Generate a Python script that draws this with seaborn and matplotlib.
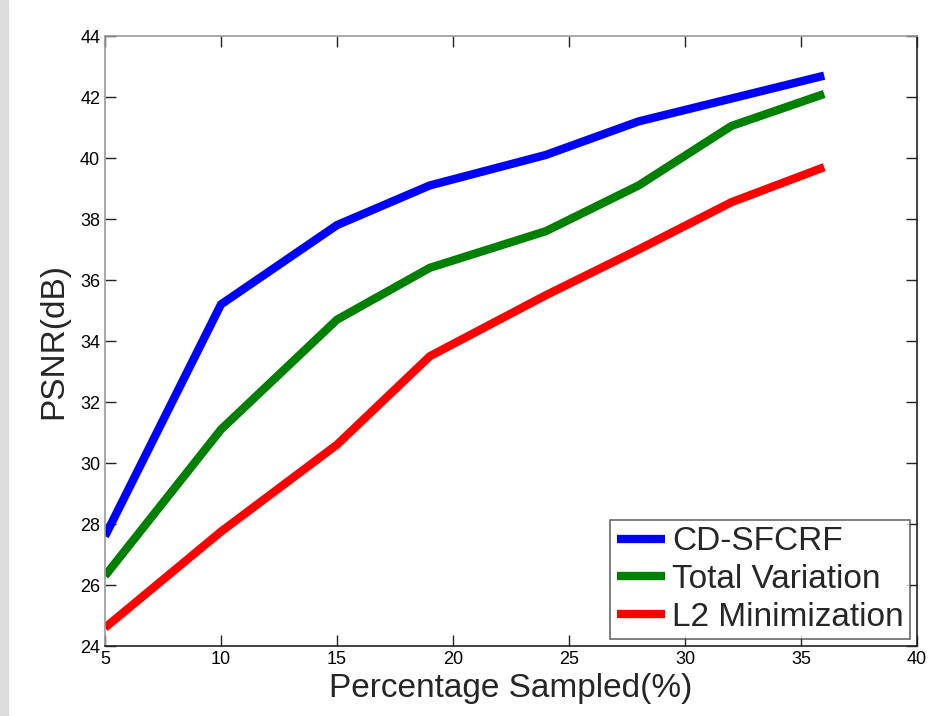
import numpy as np
import pandas as pd
import matplotlib
matplotlib.use("Agg")
import matplotlib.pyplot as plt
import seaborn as sns
from matplotlib.patches import Rectangle

# data
sampled = [5, 10, 15, 19, 24, 28, 32, 36]
cd_sfcrf = [27.6, 35.2, 37.8, 39.1, 40.1, 41.2, 41.95, 42.7]
total_var = [26.3, 31.1, 34.7, 36.4, 37.6, 39.1, 41.05, 42.1]
l2_min = [24.6, 27.75, 30.6, 33.5, 35.5, 37.0, 38.55, 39.7]

methods = ["CD-SFCRF", "Total Variation", "L2 Minimization"]
colors = ["#0000ff", "#008000", "#ff0000"]

df = pd.DataFrame({
    "x": sampled * 3,
    "psnr": cd_sfcrf + total_var + l2_min,
    "method": np.repeat(methods, len(sampled)),
})

sns.set_theme(style="white")
plt.rcParams["font.family"] = ["Liberation Sans", "DejaVu Sans"]

fig = plt.figure(figsize=(9.5, 7.16), dpi=100)
fig.add_artist(Rectangle((0, 0), 8 / 950, 1, transform=fig.transFigure,
                         color="#dcdcdc", zorder=0))
ax = fig.add_axes([105 / 950, 70 / 716, 812 / 950, 610 / 716])

sns.lineplot(data=df, x="x", y="psnr", hue="method", hue_order=methods,
             palette=colors, linewidth=6, ax=ax, legend=True)
for ln in ax.get_lines():
    ln.set_solid_capstyle("butt")
    ln.set_solid_joinstyle("miter")

ax.set_xlim(5, 40)
ax.set_ylim(24, 44)
ax.set_xticks(np.arange(5, 41, 5))
ax.set_yticks(np.arange(24, 45, 2))
ax.tick_params(direction="in", length=8, width=1, labelsize=13,
               top=True, right=True, left=True, bottom=True, colors="#222222")
ax.tick_params(axis="both", labelcolor="black")
for side in ["left", "top"]:
    ax.spines[side].set_color("#999999")
for side in ["right", "bottom"]:
    ax.spines[side].set_color("#222222")
for s in ax.spines.values():
    s.set_linewidth(1.2)

ax.set_xlabel("Percentage Sampled(%)", fontsize=24, labelpad=4)
ax.set_ylabel("PSNR(dB)", fontsize=24, labelpad=8)

leg = ax.legend(loc="lower right", fontsize=24, frameon=True, fancybox=False,
                handlelength=1.45, handletextpad=0.2, borderpad=0.2,
                labelspacing=0.2, borderaxespad=0.2)
leg.get_frame().set_edgecolor("#444444")
leg.get_frame().set_linewidth(1.2)
for h in leg.get_lines():
    h.set_linewidth(6)
    h.set_solid_capstyle("butt")

fig.savefig("out.png", dpi=100)
